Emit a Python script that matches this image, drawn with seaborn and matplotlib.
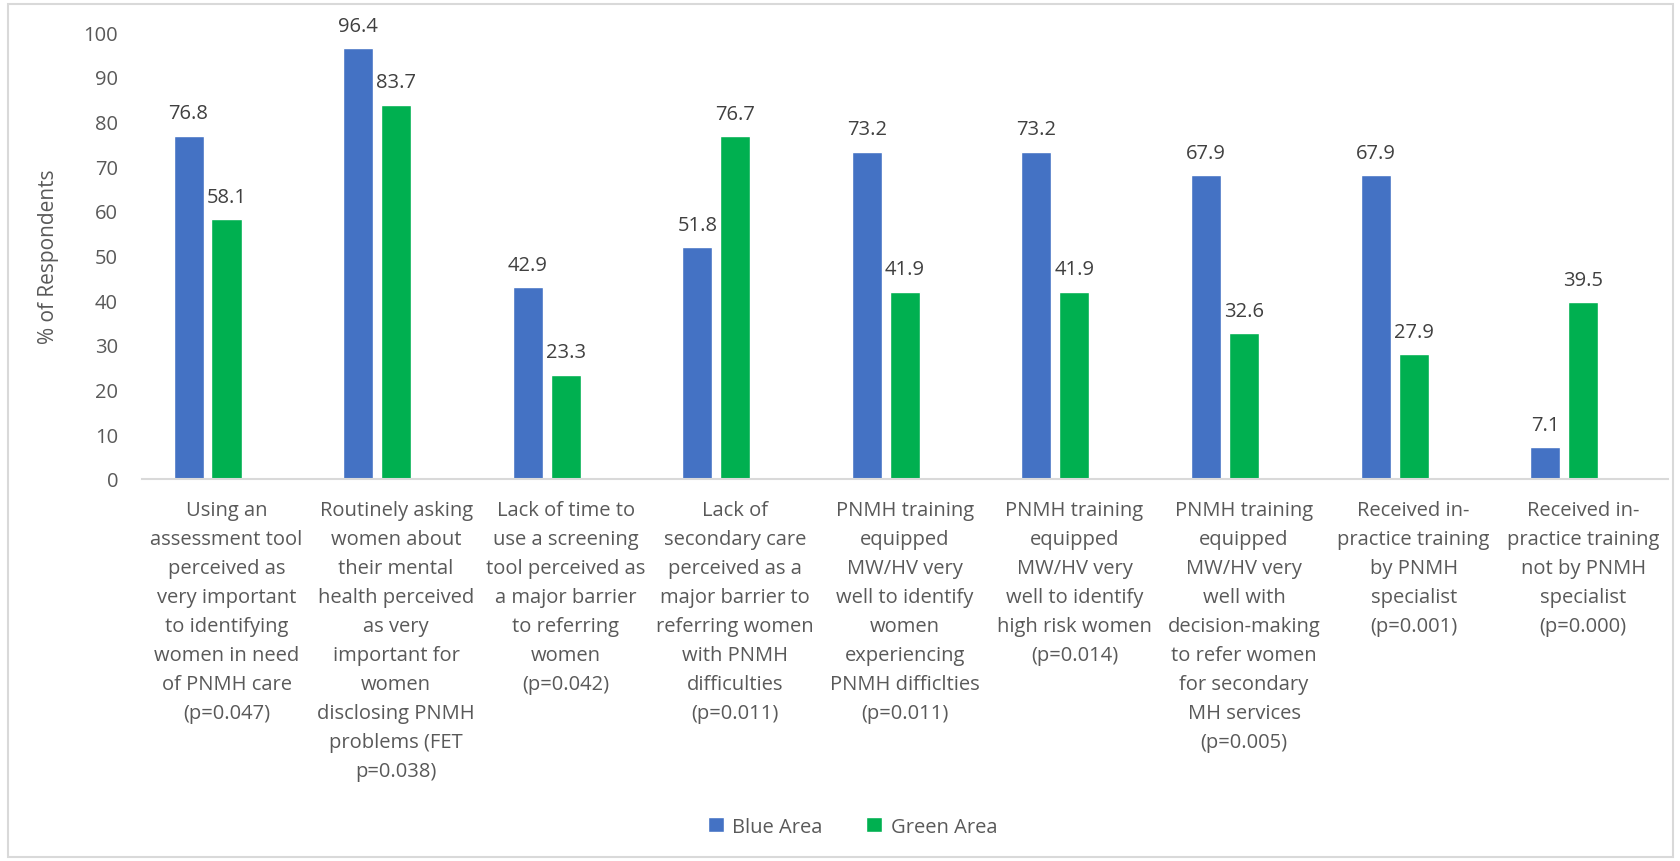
import matplotlib
matplotlib.use("Agg")
import matplotlib.pyplot as plt
from matplotlib.patches import Rectangle
import seaborn as sns
import pandas as pd

categories = [
    "Using an\nassessment tool\nperceived as\nvery important\nto identifying\nwomen in need\nof PNMH care\n(p=0.047)",
    "Routinely asking\nwomen about\ntheir mental\nhealth perceived\nas very\nimportant for\nwomen\ndisclosing PNMH\nproblems (FET\np=0.038)",
    "Lack of time to\nuse a screening\ntool perceived as\na major barrier\nto referring\nwomen\n(p=0.042)",
    "Lack of\nsecondary care\nperceived as a\nmajor barrier to\nreferring women\nwith PNMH\ndifficulties\n(p=0.011)",
    "PNMH training\nequipped\nMW/HV very\nwell to identify\nwomen\nexperiencing\nPNMH difficlties\n(p=0.011)",
    "PNMH training\nequipped\nMW/HV very\nwell to identify\nhigh risk women\n(p=0.014)",
    "PNMH training\nequipped\nMW/HV very\nwell with\ndecision-making\nto refer women\nfor secondary\nMH services\n(p=0.005)",
    "Received in-\npractice training\nby PNMH\nspecialist\n(p=0.001)",
    "Received in-\npractice training\nnot by PNMH\nspecialist\n(p=0.000)",
]
blue_area = [76.8, 96.4, 42.9, 51.8, 73.2, 73.2, 67.9, 67.9, 7.1]
green_area = [58.1, 83.7, 23.3, 76.7, 41.9, 41.9, 32.6, 27.9, 39.5]
series_names = ["Blue Area", "Green Area"]
# the chart keeps a third, empty series slot, so each pair sits left of centre
hue_slots = series_names + ["(empty)"]
y_ticks = list(range(0, 101, 10))

sns.set_theme(style="white")
plt.rcParams["font.family"] = ["Open Sans", "DejaVu Sans"]
TEXT = "#595959"

df = pd.DataFrame({
    "category": categories * 2,
    "value": blue_area + green_area,
    "area": [series_names[0]] * len(categories) + [series_names[1]] * len(categories),
})

fig = plt.figure(figsize=(16.81, 8.62), dpi=100)
ax = fig.add_axes([0.0843, 0.4432, 0.908, 0.5185])

sns.barplot(data=df, x="category", y="value", hue="area", hue_order=hue_slots,
            palette=["#4472C4", "#00B050", "#A5A5A5"], width=0.672, gap=0.21,
            saturation=1, errorbar=None, ax=ax, legend=False)

for container in ax.containers:
    ax.bar_label(container, fmt="%.1f", padding=9, fontsize=14.5,
                 color="#404040", clip_on=False)

ax.set_ylim(0, 100)
ax.set_yticks(y_ticks)
ax.set_xlabel("")
ax.set_ylabel("% of Respondents", fontsize=15, color=TEXT)
ax.yaxis.set_label_coords(-0.054, 0.5)
ax.tick_params(axis="y", length=0, pad=17, labelsize=14.5, labelcolor=TEXT)
ax.tick_params(axis="x", length=0, pad=15, labelsize=14.5, labelcolor=TEXT)
for lbl in ax.get_xticklabels():
    lbl.set_linespacing(1.6)

for side in ["left", "right", "top"]:
    ax.spines[side].set_visible(False)
ax.spines["bottom"].set_color("#d9d9d9")
ax.spines["bottom"].set_linewidth(1.5)

ax.legend(ax.containers[:2], series_names, loc="center",
          bbox_to_anchor=(0.507, 0.04), bbox_transform=fig.transFigure,
          ncol=2, frameon=False, labelcolor=TEXT, handlelength=0.8,
          handleheight=0.8, handletextpad=0.4, columnspacing=2.2,
          prop={"size": 14.5})

fig.patches.append(Rectangle((0.0048, 0.005), 0.9902, 0.989, transform=fig.transFigure,
                             fill=False, edgecolor="#d9d9d9", linewidth=1.5))

fig.savefig("out.png", dpi=100, facecolor="white")
